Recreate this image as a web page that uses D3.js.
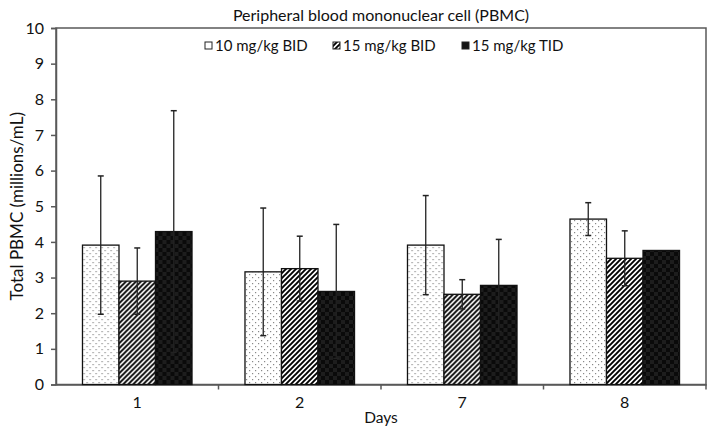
<!DOCTYPE html>
<html><head><meta charset="utf-8">
<script src="https://cdn.jsdelivr.net/npm/d3@7/dist/d3.min.js"></script>
<style>body{margin:0;background:#fff}svg{display:block}text{font-family:Lato,"Open Sans",sans-serif;fill:#111}</style>
</head><body><svg id="c" width="709" height="432"></svg>
<script>
const days = ["1", "2", "7", "8"];
const seriesNames = ["10 mg/kg BID", "15 mg/kg BID", "15 mg/kg TID"];
const v10 = [3.91, 3.16, 3.91, 4.64];
const e10 = [1.94, 1.79, 1.39, 0.46];
const v15b = [2.90, 3.25, 2.53, 3.54];
const e15b = [0.93, 0.91, 0.41, 0.77];
const v15t = [4.29, 2.61, 2.78, 3.76];
const e15t = [3.39, 1.88, 1.29, 0];
const yTicks = [0, 1, 2, 3, 4, 5, 6, 7, 8, 9, 10];

const values = [v10, v15b, v15t];
const errs = [e10, e15b, e15t];
const svg = d3.select("#c");
const m = {l: 56, r: 706, t: 28, b: 384.5};
const FONT = "Lato,'Open Sans',sans-serif";

// patterns
const defs = svg.append("defs");
const p1 = defs.append("pattern").attr("id", "pDot").attr("patternUnits", "userSpaceOnUse").attr("width", 6).attr("height", 6);
p1.append("rect").attr("width", 6).attr("height", 6).attr("fill", "#fff");
p1.append("rect").attr("x", 1).attr("y", 1).attr("width", 1.2).attr("height", 1.2).attr("fill", "#888");
p1.append("rect").attr("x", 4).attr("y", 4).attr("width", 1.2).attr("height", 1.2).attr("fill", "#888");
const p2 = defs.append("pattern").attr("id", "pDiag").attr("patternUnits", "userSpaceOnUse").attr("width", 5).attr("height", 5);
p2.append("rect").attr("width", 5).attr("height", 5).attr("fill", "#fff");
p2.append("path").attr("d", "M-1,6 L6,-1 M-1,1 L1,-1 M4,6 L6,4").attr("stroke", "#000").attr("stroke-width", 1.9);
const p3 = defs.append("pattern").attr("id", "pBlk").attr("patternUnits", "userSpaceOnUse").attr("width", 8).attr("height", 8);
p3.append("rect").attr("width", 8).attr("height", 8).attr("fill", "#0a0a0a");
[[1,1],[3,1],[1,3],[3,3],[5,5],[7,5],[5,7],[7,7]].forEach(([x,y]) =>
  p3.append("rect").attr("x", x - 0.5).attr("y", y - 0.5).attr("width", 1).attr("height", 1).attr("fill", "#555"));
const fills = ["url(#pDot)", "url(#pDiag)", "url(#pBlk)"];
const legendFills = ["#fff", "url(#pDiag)", "#151515"];

const y = d3.scaleLinear().domain([0, 10]).range([m.b, m.t]);
const xAxisScale = d3.scaleBand().domain(days).range([m.l, m.r]).padding(0);
const x0 = d3.scaleBand().domain(days).range([m.l, m.r]).paddingInner(0.326).paddingOuter(0.163);
const x1 = d3.scaleBand().domain(d3.range(3)).range([0, x0.bandwidth()]).padding(0);

// title
svg.append("text").attr("x", (m.l + m.r) / 2).attr("y", 21).attr("text-anchor", "middle")
  .attr("font-size", 16).text("Peripheral blood mononuclear cell (PBMC)");

// plot border
svg.append("rect").attr("x", m.l).attr("y", m.t).attr("width", m.r - m.l).attr("height", m.b - m.t)
  .attr("fill", "none").attr("stroke", "#595959").attr("stroke-width", 1.5);

// y axis
const ya = svg.append("g").attr("transform", `translate(${m.l},0)`)
  .call(d3.axisLeft(y).tickValues(yTicks).tickFormat(d3.format("d")).tickSize(5).tickPadding(7));
ya.select(".domain").attr("stroke", "#595959").attr("stroke-width", 1.5);
ya.selectAll(".tick line").attr("stroke", "#595959").attr("stroke-width", 1.5);
ya.selectAll(".tick text").attr("font-size", 16).attr("font-family", FONT).attr("fill", "#111");

// x axis: labels at centers, ticks at boundaries
const xa = svg.append("g").attr("transform", `translate(0,${m.b})`)
  .call(d3.axisBottom(xAxisScale).tickSize(0).tickPadding(12));
xa.select(".domain").attr("stroke", "#595959").attr("stroke-width", 1.5);
xa.selectAll(".tick text").attr("font-size", 16).attr("font-family", FONT).attr("fill", "#111");
svg.append("g").selectAll("line").data(days).join("line")
  .attr("x1", d => xAxisScale(d) + xAxisScale.step()).attr("x2", d => xAxisScale(d) + xAxisScale.step())
  .attr("y1", m.b).attr("y2", m.b + 5).attr("stroke", "#595959").attr("stroke-width", 1.5);

// axis titles
svg.append("text").attr("x", (m.l + m.r) / 2).attr("y", 423).attr("text-anchor", "middle")
  .attr("font-size", 15.5).text("Days");
svg.append("text").attr("transform", `translate(23,${(m.t + m.b) / 2}) rotate(-90)`).attr("text-anchor", "middle")
  .attr("font-size", 17).text("Total PBMC (millions/mL)");

// bars
const groups = svg.append("g").selectAll("g").data(days).join("g")
  .attr("transform", d => `translate(${x0(d)},0)`);
groups.each(function(d, i) {
  const g = d3.select(this);
  for (let s = 0; s < 3; s++) {
    g.append("rect").attr("x", x1(s)).attr("y", y(values[s][i]))
      .attr("width", x1.bandwidth()).attr("height", y(0) - y(values[s][i]))
      .attr("fill", fills[s]).attr("stroke", "#111").attr("stroke-width", 1.3);
  }
  for (let s = 0; s < 3; s++) {
    const e = errs[s][i];
    if (e <= 0) continue;
    const cx = x1(s) + x1.bandwidth() / 2;
    const lo = y(values[s][i] - e), hi = y(values[s][i] + e);
    g.append("line").attr("x1", cx).attr("x2", cx).attr("y1", lo).attr("y2", hi).attr("stroke", "#222").attr("stroke-width", 1.3);
    [lo, hi].forEach(yy => g.append("line").attr("x1", cx - 3).attr("x2", cx + 3).attr("y1", yy).attr("y2", yy)
      .attr("stroke", "#222").attr("stroke-width", 1.5));
  }
});

// legend
const legX = [205, 333, 462];
const leg = svg.append("g").selectAll("g").data(seriesNames).join("g")
  .attr("transform", (d, i) => `translate(${legX[i]},46)`);
leg.append("rect").attr("x", 0).attr("y", -4).attr("width", 7).attr("height", 7)
  .attr("fill", (d, i) => legendFills[i]).attr("stroke", "#222").attr("stroke-width", 1);
leg.append("text").attr("x", 10).attr("y", 0).attr("dy", "0.35em").attr("font-size", 15).text(d => d);
</script></body></html>
